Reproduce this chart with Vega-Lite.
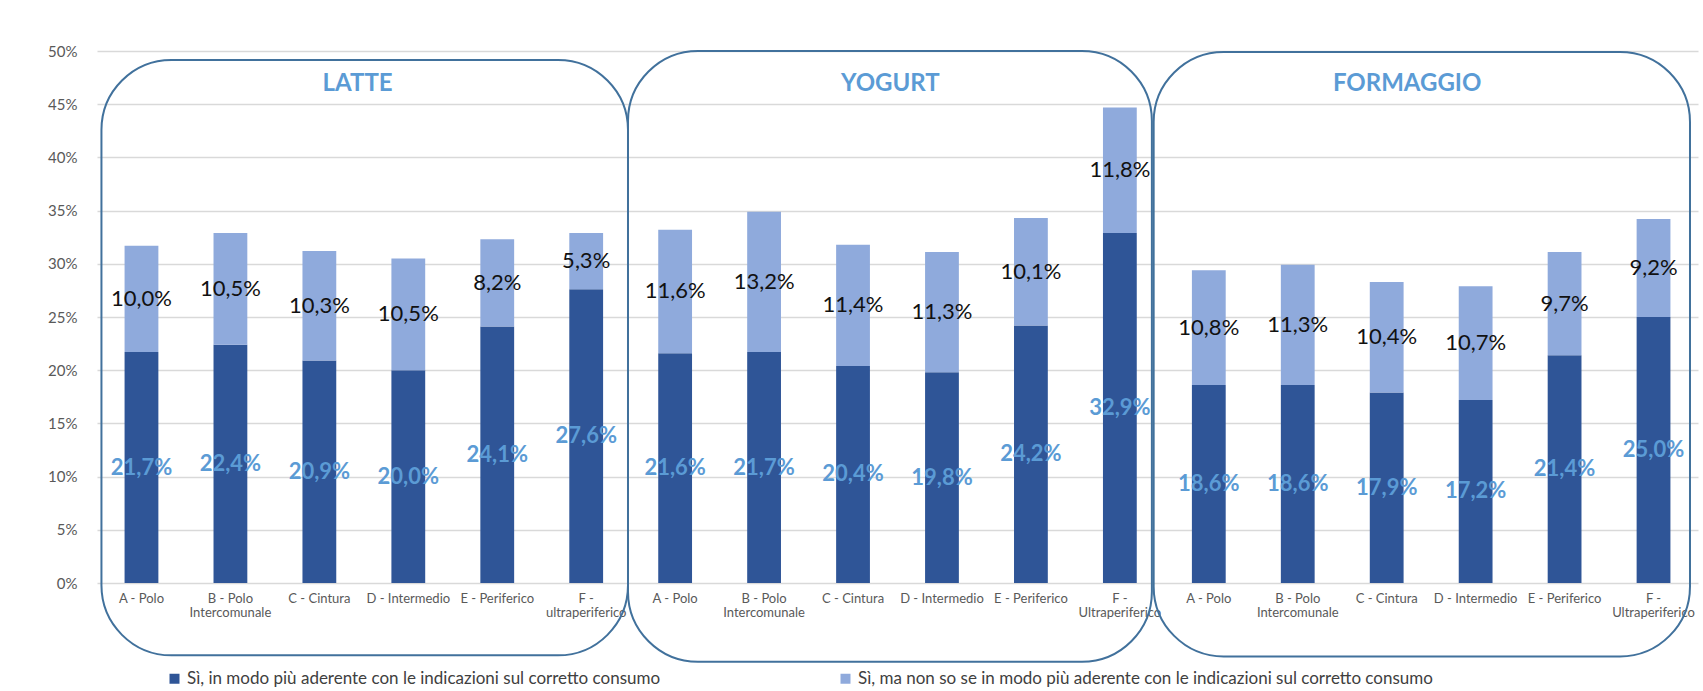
{
  "$schema": "https://vega.github.io/schema/vega-lite/v6.json",
  "width": 1601,
  "height": 532,
  "autosize": {"type": "none"},
  "padding": {"left": 97, "top": 51, "right": 5, "bottom": 108},
  "background": "white",
  "config": {
    "locale": {"number": {"decimal": ",", "thousands": ".", "grouping": [3], "currency": ["€", ""]}},
    "view": {"stroke": null},
    "font": "Lato"
  },
  "datasets": {
    "barre": [
      {"categoria": "LATTE|A - Polo", "serie": "Sì, in modo più aderente con le indicazioni sul corretto consumo", "valore": 0.217},
      {"categoria": "LATTE|A - Polo", "serie": "Sì, ma non so se in modo più aderente con le indicazioni sul corretto consumo", "valore": 0.100},
      {"categoria": "LATTE|B - Polo|Intercomunale", "serie": "Sì, in modo più aderente con le indicazioni sul corretto consumo", "valore": 0.224},
      {"categoria": "LATTE|B - Polo|Intercomunale", "serie": "Sì, ma non so se in modo più aderente con le indicazioni sul corretto consumo", "valore": 0.105},
      {"categoria": "LATTE|C - Cintura", "serie": "Sì, in modo più aderente con le indicazioni sul corretto consumo", "valore": 0.209},
      {"categoria": "LATTE|C - Cintura", "serie": "Sì, ma non so se in modo più aderente con le indicazioni sul corretto consumo", "valore": 0.103},
      {"categoria": "LATTE|D - Intermedio", "serie": "Sì, in modo più aderente con le indicazioni sul corretto consumo", "valore": 0.200},
      {"categoria": "LATTE|D - Intermedio", "serie": "Sì, ma non so se in modo più aderente con le indicazioni sul corretto consumo", "valore": 0.105},
      {"categoria": "LATTE|E - Periferico", "serie": "Sì, in modo più aderente con le indicazioni sul corretto consumo", "valore": 0.241},
      {"categoria": "LATTE|E - Periferico", "serie": "Sì, ma non so se in modo più aderente con le indicazioni sul corretto consumo", "valore": 0.082},
      {"categoria": "LATTE|F -|ultraperiferico", "serie": "Sì, in modo più aderente con le indicazioni sul corretto consumo", "valore": 0.276},
      {"categoria": "LATTE|F -|ultraperiferico", "serie": "Sì, ma non so se in modo più aderente con le indicazioni sul corretto consumo", "valore": 0.053},
      {"categoria": "YOGURT|A - Polo", "serie": "Sì, in modo più aderente con le indicazioni sul corretto consumo", "valore": 0.216},
      {"categoria": "YOGURT|A - Polo", "serie": "Sì, ma non so se in modo più aderente con le indicazioni sul corretto consumo", "valore": 0.116},
      {"categoria": "YOGURT|B - Polo|Intercomunale", "serie": "Sì, in modo più aderente con le indicazioni sul corretto consumo", "valore": 0.217},
      {"categoria": "YOGURT|B - Polo|Intercomunale", "serie": "Sì, ma non so se in modo più aderente con le indicazioni sul corretto consumo", "valore": 0.132},
      {"categoria": "YOGURT|C - Cintura", "serie": "Sì, in modo più aderente con le indicazioni sul corretto consumo", "valore": 0.204},
      {"categoria": "YOGURT|C - Cintura", "serie": "Sì, ma non so se in modo più aderente con le indicazioni sul corretto consumo", "valore": 0.114},
      {"categoria": "YOGURT|D - Intermedio", "serie": "Sì, in modo più aderente con le indicazioni sul corretto consumo", "valore": 0.198},
      {"categoria": "YOGURT|D - Intermedio", "serie": "Sì, ma non so se in modo più aderente con le indicazioni sul corretto consumo", "valore": 0.113},
      {"categoria": "YOGURT|E - Periferico", "serie": "Sì, in modo più aderente con le indicazioni sul corretto consumo", "valore": 0.242},
      {"categoria": "YOGURT|E - Periferico", "serie": "Sì, ma non so se in modo più aderente con le indicazioni sul corretto consumo", "valore": 0.101},
      {"categoria": "YOGURT|F -|Ultraperiferico", "serie": "Sì, in modo più aderente con le indicazioni sul corretto consumo", "valore": 0.329},
      {"categoria": "YOGURT|F -|Ultraperiferico", "serie": "Sì, ma non so se in modo più aderente con le indicazioni sul corretto consumo", "valore": 0.118},
      {"categoria": "FORMAGGIO|A - Polo", "serie": "Sì, in modo più aderente con le indicazioni sul corretto consumo", "valore": 0.186},
      {"categoria": "FORMAGGIO|A - Polo", "serie": "Sì, ma non so se in modo più aderente con le indicazioni sul corretto consumo", "valore": 0.108},
      {"categoria": "FORMAGGIO|B - Polo|Intercomunale", "serie": "Sì, in modo più aderente con le indicazioni sul corretto consumo", "valore": 0.186},
      {"categoria": "FORMAGGIO|B - Polo|Intercomunale", "serie": "Sì, ma non so se in modo più aderente con le indicazioni sul corretto consumo", "valore": 0.113},
      {"categoria": "FORMAGGIO|C - Cintura", "serie": "Sì, in modo più aderente con le indicazioni sul corretto consumo", "valore": 0.179},
      {"categoria": "FORMAGGIO|C - Cintura", "serie": "Sì, ma non so se in modo più aderente con le indicazioni sul corretto consumo", "valore": 0.104},
      {"categoria": "FORMAGGIO|D - Intermedio", "serie": "Sì, in modo più aderente con le indicazioni sul corretto consumo", "valore": 0.172},
      {"categoria": "FORMAGGIO|D - Intermedio", "serie": "Sì, ma non so se in modo più aderente con le indicazioni sul corretto consumo", "valore": 0.107},
      {"categoria": "FORMAGGIO|E - Periferico", "serie": "Sì, in modo più aderente con le indicazioni sul corretto consumo", "valore": 0.214},
      {"categoria": "FORMAGGIO|E - Periferico", "serie": "Sì, ma non so se in modo più aderente con le indicazioni sul corretto consumo", "valore": 0.097},
      {"categoria": "FORMAGGIO|F -|Ultraperiferico", "serie": "Sì, in modo più aderente con le indicazioni sul corretto consumo", "valore": 0.250},
      {"categoria": "FORMAGGIO|F -|Ultraperiferico", "serie": "Sì, ma non so se in modo più aderente con le indicazioni sul corretto consumo", "valore": 0.092}
    ],
    "riquadri": [
      {"prodotto": "LATTE", "inizio": 0.05, "fine": 5.97, "centro": 2.93, "base": -0.068, "cima": 0.4915, "quota": 0.469},
      {"prodotto": "YOGURT", "inizio": 5.97, "fine": 11.86, "centro": 8.92, "base": -0.074, "cima": 0.5, "quota": 0.469},
      {"prodotto": "FORMAGGIO", "inizio": 11.88, "fine": 17.91, "centro": 14.73, "base": -0.069, "cima": 0.499, "quota": 0.469}
    ]
  },
  "layer": [
    {
      "data": {"name": "barre"},
      "encoding": {
        "x": {
          "field": "categoria",
          "type": "nominal",
          "sort": null,
          "scale": {"type": "band", "paddingInner": 0.62, "paddingOuter": 0.31},
          "axis": {
            "title": null,
            "orient": "bottom",
            "labelExpr": "slice(split(datum.value, '|'), 1)",
            "labelAngle": 0,
            "ticks": false,
            "domain": false,
            "labelFontSize": 13,
            "labelColor": "#595959",
            "labelPadding": 9,
            "labelLineHeight": 14,
            "labelBaseline": "top",
            "labelOverlap": false,
            "labelLimit": 120
          }
        },
        "y": {
          "field": "valore",
          "type": "quantitative",
          "stack": "zero",
          "scale": {"domain": [0, 0.5], "nice": false},
          "axis": {
            "title": null,
            "orient": "left",
            "format": ".0%",
            "values": [0, 0.05, 0.1, 0.15, 0.2, 0.25, 0.3, 0.35, 0.4, 0.45, 0.5],
            "grid": true,
            "gridColor": "#d9d9d9",
            "gridWidth": 1.5,
            "domain": false,
            "ticks": false,
            "labelPadding": 20,
            "labelFontSize": 15,
            "labelColor": "#595959"
          }
        },
        "order": {"field": "serie", "sort": "ascending"}
      },
      "layer": [
        {
          "mark": {"type": "bar"},
          "encoding": {
            "color": {
              "field": "serie",
              "type": "nominal",
              "scale": {
                "domain": [
                  "Sì, in modo più aderente con le indicazioni sul corretto consumo",
                  "Sì, ma non so se in modo più aderente con le indicazioni sul corretto consumo"
                ],
                "range": ["#2F5597", "#8FAADC"]
              },
              "legend": {
                "title": null,
                "orient": "none",
                "direction": "horizontal",
                "legendX": 69,
                "legendY": 619,
                "symbolType": "square",
                "symbolSize": 100,
                "symbolStrokeWidth": 0,
                "labelFontSize": 17,
                "labelColor": "#404040",
                "labelLimit": 900,
                "labelOffset": 4,
                "columnPadding": 176
              }
            }
          }
        },
        {
          "mark": {"type": "text", "fontSize": 22, "fontWeight": "bold", "color": "#5B9BD5", "baseline": "middle", "align": "center"},
          "encoding": {
            "y": {"field": "valore", "type": "quantitative", "stack": "zero", "bandPosition": 0.5},
            "detail": {"field": "serie"},
            "text": {"field": "valore", "type": "quantitative", "format": ".1%"},
            "opacity": {
              "condition": {"test": "datum.serie === 'Sì, in modo più aderente con le indicazioni sul corretto consumo'", "value": 1},
              "value": 0
            }
          }
        },
        {
          "mark": {"type": "text", "fontSize": 22, "color": "#111111", "baseline": "middle", "align": "center"},
          "encoding": {
            "y": {"field": "valore", "type": "quantitative", "stack": "zero", "bandPosition": 0.5},
            "detail": {"field": "serie"},
            "text": {"field": "valore", "type": "quantitative", "format": ".1%"},
            "opacity": {
              "condition": {"test": "datum.serie === 'Sì, in modo più aderente con le indicazioni sul corretto consumo'", "value": 0},
              "value": 1
            }
          }
        }
      ]
    },
    {
      "data": {"name": "riquadri"},
      "layer": [
        {
          "mark": {"type": "rect", "fill": null, "stroke": "#41719C", "strokeWidth": 2, "cornerRadius": 70, "clip": false},
          "encoding": {
            "x": {"field": "inizio", "type": "quantitative", "scale": {"domain": [0, 18], "nice": false, "zero": false}, "axis": null},
            "x2": {"field": "fine"},
            "y": {"field": "base", "type": "quantitative", "scale": {"domain": [0, 0.5], "nice": false}, "axis": null},
            "y2": {"field": "cima"}
          }
        },
        {
          "mark": {"type": "text", "fontSize": 24, "fontWeight": "bold", "color": "#5B9BD5", "baseline": "middle", "align": "center"},
          "encoding": {
            "x": {"field": "centro", "type": "quantitative", "scale": {"domain": [0, 18], "nice": false, "zero": false}, "axis": null},
            "y": {"field": "quota", "type": "quantitative", "scale": {"domain": [0, 0.5], "nice": false}, "axis": null},
            "text": {"field": "prodotto", "type": "nominal"}
          }
        }
      ]
    }
  ],
  "resolve": {"scale": {"x": "independent", "y": "independent"}, "axis": {"x": "independent", "y": "independent"}}
}
